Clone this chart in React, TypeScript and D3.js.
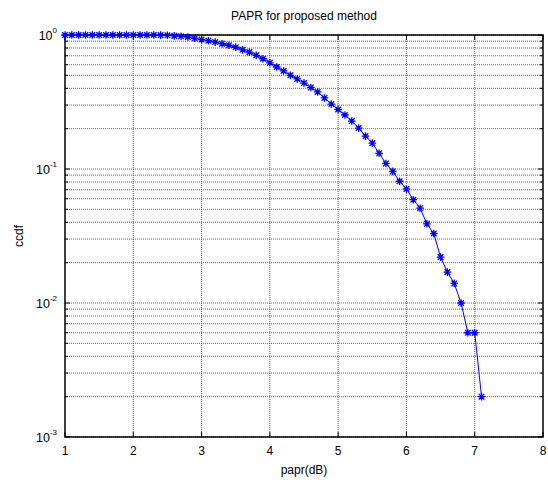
import React from 'react';
import * as d3 from 'd3';

// papr (dB) sample points and the measured ccdf
const papr = [
  1.0, 1.1, 1.2, 1.3, 1.4, 1.5, 1.6, 1.7, 1.8, 1.9,
  2.0, 2.1, 2.2, 2.3, 2.4, 2.5, 2.6, 2.7, 2.8, 2.9,
  3.0, 3.1, 3.2, 3.3, 3.4, 3.5, 3.6, 3.7, 3.8, 3.9,
  4.0, 4.1, 4.2, 4.3, 4.4, 4.5, 4.6, 4.7, 4.8, 4.9,
  5.0, 5.1, 5.2, 5.3, 5.4, 5.5, 5.6, 5.7, 5.8, 5.9,
  6.0, 6.1, 6.2, 6.3, 6.4, 6.5, 6.6, 6.7, 6.8, 6.9,
  7.0, 7.1,
];
const ccdf = [
  1, 1, 1, 1, 1, 1, 1, 1, 1, 1,
  1, 1, 1, 1, 0.998, 0.995, 0.985, 0.978, 0.966, 0.945,
  0.925, 0.907, 0.885, 0.861, 0.838, 0.81, 0.775, 0.745, 0.705, 0.665,
  0.62, 0.577, 0.539, 0.5, 0.47, 0.438, 0.406, 0.376, 0.339, 0.305,
  0.278, 0.253, 0.228, 0.202, 0.176, 0.156, 0.131, 0.11, 0.096, 0.081,
  0.071, 0.059, 0.051, 0.039, 0.033, 0.022, 0.017, 0.014, 0.01, 0.006,
  0.006, 0.002,
];

const xTicks = [1, 2, 3, 4, 5, 6, 7, 8];
const yDecades = [0, -1, -2, -3];

const W = 548;
const H = 483;
const left = 65, right = 543, top = 35, bottom = 437;

export default function App() {
  const x = d3.scaleLinear().domain([1, 8]).range([left, right]);
  const y = d3.scaleLog().domain([1e-3, 1]).range([bottom, top]);

  // grid values 1..9 per decade
  const gridY: number[] = [];
  for (const e of [-3, -2, -1]) {
    for (let m = 1; m <= 9; m++) gridY.push(m * Math.pow(10, e));
  }
  gridY.push(1);

  const line = d3
    .line<number>()
    .x((d, i) => x(papr[i]))
    .y((d) => y(d));

  const font = 'Liberation Sans, Arial, sans-serif';
  const gridStyle = { stroke: '#333', strokeWidth: 1, strokeDasharray: '1,1', strokeOpacity: 0.75 };
  const s = 3.8;
  const sd = 2.8;

  return (
    <svg width={W} height={H} style={{ position: 'absolute', left: 0, top: 0, background: '#fff' }} fontFamily={font}>
      <rect x={0} y={0} width={W} height={H} fill="#fff" />
      {/* grid */}
      {xTicks.slice(1, -1).map((t) => (
        <line key={'gx' + t} x1={x(t)} x2={x(t)} y1={top} y2={bottom} {...gridStyle} />
      ))}
      {gridY.map((v, i) => (
        <line key={'gy' + i} x1={left} x2={right} y1={y(v)} y2={y(v)} {...gridStyle} />
      ))}
      {/* ticks */}
      {xTicks.map((t) => (
        <g key={'tx' + t}>
          <line x1={x(t)} x2={x(t)} y1={bottom} y2={bottom - 5} stroke="#000" />
          <line x1={x(t)} x2={x(t)} y1={top} y2={top + 5} stroke="#000" />
          <text x={x(t)} y={bottom + 18} textAnchor="middle" fontSize={12}>{t}</text>
        </g>
      ))}
      {gridY.map((v, i) => {
        const major = Math.abs(Math.log10(v) - Math.round(Math.log10(v))) < 1e-9;
        const len = major ? 5 : 3;
        return (
          <g key={'ty' + i}>
            <line x1={left} x2={left + len} y1={y(v)} y2={y(v)} stroke="#000" />
            <line x1={right} x2={right - len} y1={y(v)} y2={y(v)} stroke="#000" />
          </g>
        );
      })}
      {yDecades.map((e) => (
        <text key={'yl' + e} x={57} y={y(Math.pow(10, e)) + 5} textAnchor="end" fontSize={12.5}>
          10<tspan dy={-7} fontSize={8}>{e}</tspan>
        </text>
      ))}
      {/* frame */}
      <rect x={left} y={top} width={right - left} height={bottom - top} fill="none" stroke="#000" strokeWidth={1.5} />
      {/* data */}
      <path d={line(ccdf) || ''} fill="none" stroke="#0000ff" strokeWidth={1} />
      {ccdf.map((v, i) => {
        const cx = x(papr[i]);
        const cy = y(v);
        return (
          <path
            key={'m' + i}
            d={`M${cx - s},${cy}H${cx + s}M${cx},${cy - s}V${cy + s}M${cx - sd},${cy - sd}L${cx + sd},${cy + sd}M${cx - sd},${cy + sd}L${cx + sd},${cy - sd}`}
            stroke="#0000ff"
            strokeWidth={1.3}
            fill="none"
          />
        );
      })}
      {/* labels */}
      <text x={(left + right) / 2} y={20} textAnchor="middle" fontSize={12}>PAPR for proposed method</text>
      <text x={(left + right) / 2} y={474} textAnchor="middle" fontSize={12}>papr(dB)</text>
      <text transform={`translate(23,${(top + bottom) / 2}) rotate(-90)`} textAnchor="middle" fontSize={12}>ccdf</text>
    </svg>
  );
}
